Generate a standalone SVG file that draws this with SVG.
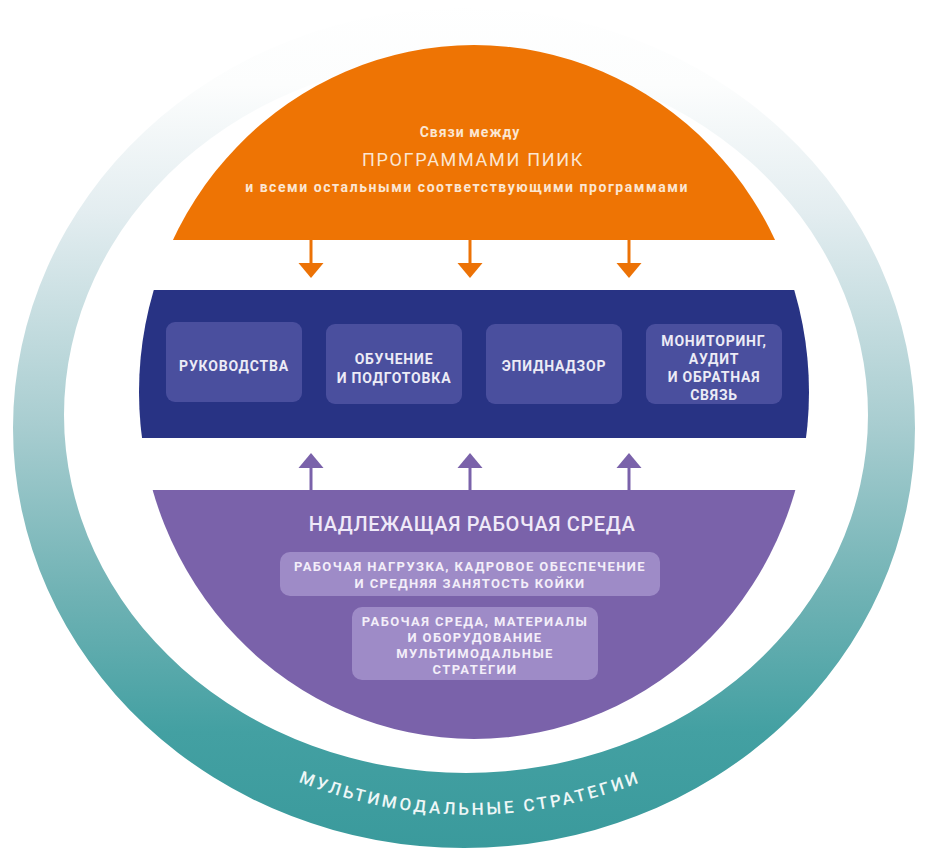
<svg xmlns="http://www.w3.org/2000/svg" width="925" height="851" viewBox="0 0 925 851">
  <defs>
    <linearGradient id="ringGrad" x1="0" y1="0" x2="0" y2="851" gradientUnits="userSpaceOnUse">
      <stop offset="0" stop-color="#ffffff"/>
      <stop offset="0.1" stop-color="#fcfdfd"/>
      <stop offset="0.25" stop-color="#e3edf0"/>
      <stop offset="0.5" stop-color="#a8cdd0"/>
      <stop offset="0.7" stop-color="#6fb2b4"/>
      <stop offset="0.86" stop-color="#43a0a2"/>
      <stop offset="1" stop-color="#3a9a9c"/>
    </linearGradient>
    <clipPath id="disk">
      <ellipse cx="474" cy="392" rx="335" ry="347"/>
    </clipPath>
    <path id="ringArc" d="M 10 355 A 460 460 0 0 0 930 355"/>
  </defs>
  <style>
    .t { font-family: Roboto, "Liberation Sans", sans-serif; text-anchor: middle; }
    .orangeTxt { fill: #fbe6d2; }
    .boxTxt { fill: #ecebf6; font-weight: 700; font-size: 14px; letter-spacing: 0.8px; }
    .purTxt { fill: #f3eef9; font-weight: 700; font-size: 13px; letter-spacing: 1.4px; }
    .blueBox { fill: #4a4f9e; }
    .purBox { fill: #9e8bc7; }
    .arrO { stroke: #ec7206; stroke-width: 3; fill: none; }
    .arrP { stroke: #7a62aa; stroke-width: 3; fill: none; }
  </style>

  <g id="ring">
    <path fill="url(#ringGrad)" fill-rule="evenodd" d="M 13 428 A 451 420 0 1 0 915 428 A 451 420 0 1 0 13 428 Z M 64 415 A 402 358 0 1 0 868 415 A 402 358 0 1 0 64 415 Z"/>
    <text class="t" font-size="17" font-weight="500" letter-spacing="3" fill="#eef7f7">
      <textPath href="#ringArc" startOffset="50%">МУЛЬТИМОДАЛЬНЫЕ СТРАТЕГИИ</textPath>
    </text>
  </g>

  <g id="programs">
    <rect x="0" y="0" width="925" height="240" fill="#ee7404" clip-path="url(#disk)"/>
    <text class="t orangeTxt" x="470" y="137" font-size="14" font-weight="700" letter-spacing="1">Связи между</text>
    <text class="t orangeTxt" x="473" y="166" font-size="18" letter-spacing="1.7">ПРОГРАММАМИ ПИИК</text>
    <text class="t orangeTxt" x="467" y="192" font-size="14" font-weight="700" letter-spacing="1.55">и всеми остальными соответствующими программами</text>
  </g>

  <g id="core">
    <rect x="0" y="290" width="925" height="148" fill="#283384" clip-path="url(#disk)"/>
  </g>

  <g id="guidelines">
    <rect class="blueBox" x="166" y="322" width="136" height="80" rx="9"/>
    <text class="t boxTxt" x="234" y="371">РУКОВОДСТВА</text>
  </g>
  <g id="training">
    <rect class="blueBox" x="326" y="324" width="136" height="80" rx="9"/>
    <text class="t boxTxt" x="394" y="364">ОБУЧЕНИЕ</text>
    <text class="t boxTxt" x="394" y="383">И ПОДГОТОВКА</text>
  </g>
  <g id="surveillance">
    <rect class="blueBox" x="486" y="324" width="136" height="80" rx="9"/>
    <text class="t boxTxt" x="554" y="371">ЭПИДНАДЗОР</text>
  </g>
  <g id="monitoring">
    <rect class="blueBox" x="646" y="324" width="136" height="80" rx="9"/>
    <text class="t boxTxt" x="714" y="346">МОНИТОРИНГ,</text>
    <text class="t boxTxt" x="714" y="364">АУДИТ</text>
    <text class="t boxTxt" x="714" y="382">И ОБРАТНАЯ</text>
    <text class="t boxTxt" x="714" y="400">СВЯЗЬ</text>
  </g>

  <g id="environment">
    <rect x="0" y="490" width="925" height="300" fill="#7a62aa" clip-path="url(#disk)"/>
    <text class="t" x="472" y="531" font-size="20" font-weight="500" letter-spacing="0.6" fill="#efe9f8">НАДЛЕЖАЩАЯ РАБОЧАЯ СРЕДА</text>
    <rect class="purBox" x="280" y="552" width="380" height="44" rx="10"/>
    <text class="t purTxt" x="470" y="571">РАБОЧАЯ НАГРУЗКА, КАДРОВОЕ ОБЕСПЕЧЕНИЕ</text>
    <text class="t purTxt" x="470" y="588">И СРЕДНЯЯ ЗАНЯТОСТЬ КОЙКИ</text>
    <rect class="purBox" x="352" y="607" width="246" height="73" rx="10"/>
    <text class="t purTxt" x="475" y="626">РАБОЧАЯ СРЕДА, МАТЕРИАЛЫ</text>
    <text class="t purTxt" x="475" y="642">И ОБОРУДОВАНИЕ</text>
    <text class="t purTxt" x="475" y="658">МУЛЬТИМОДАЛЬНЫЕ</text>
    <text class="t purTxt" x="475" y="674">СТРАТЕГИИ</text>
  </g>

  <g id="connectors">
    <g fill="#ec7206">
      <line class="arrO" x1="311" y1="240" x2="311" y2="265"/>
      <polygon points="298.5,263 323.5,263 311,278"/>
      <line class="arrO" x1="470" y1="240" x2="470" y2="265"/>
      <polygon points="457.5,263 482.5,263 470,278"/>
      <line class="arrO" x1="629" y1="240" x2="629" y2="265"/>
      <polygon points="616.5,263 641.5,263 629,278"/>
    </g>
    <g fill="#7a62aa">
      <line class="arrP" x1="311" y1="490" x2="311" y2="465"/>
      <polygon points="311,453 298.5,468 323.5,468"/>
      <line class="arrP" x1="470" y1="490" x2="470" y2="465"/>
      <polygon points="470,453 457.5,468 482.5,468"/>
      <line class="arrP" x1="629" y1="490" x2="629" y2="465"/>
      <polygon points="629,453 616.5,468 641.5,468"/>
    </g>
  </g>
</svg>
